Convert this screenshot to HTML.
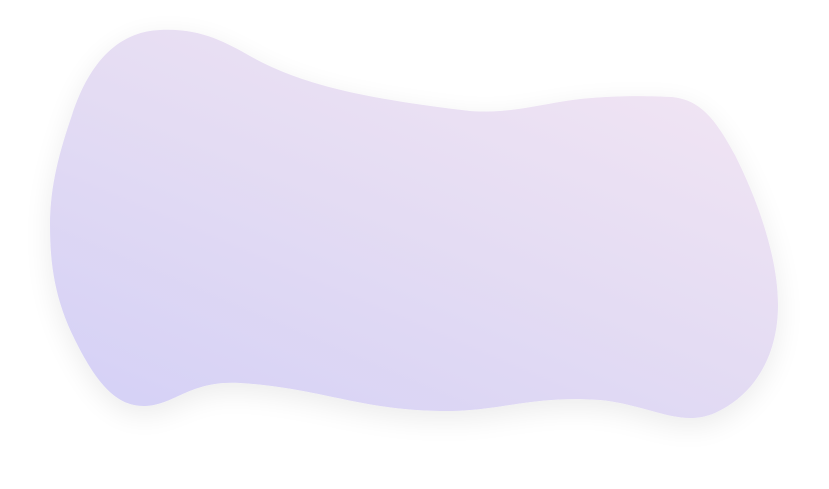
<!DOCTYPE html>
<html><head><meta charset="utf-8"><style>
html,body{margin:0;padding:0;background:#fff;width:829px;height:489px;overflow:hidden}
</style></head><body>
<svg width="829" height="489" viewBox="0 0 829 489" xmlns="http://www.w3.org/2000/svg">
<defs>
<linearGradient id="g" x1="0.1" y1="1" x2="0.9" y2="0">
<stop offset="0" stop-color="#d5d1f6"/>
<stop offset="0.5" stop-color="#e4dcf3"/>
<stop offset="1" stop-color="#f3e6f3"/>
</linearGradient>
<filter id="s" x="-20%" y="-20%" width="140%" height="140%">
<feGaussianBlur in="SourceAlpha" stdDeviation="14"/>
<feOffset dx="0" dy="8"/>
<feComponentTransfer><feFuncA type="linear" slope="0.08"/></feComponentTransfer>
<feMerge><feMergeNode/><feMergeNode in="SourceGraphic"/></feMerge>
</filter>
</defs>
<path filter="url(#s)" fill="url(#g)"
d="M160,30 C200,28 225,42 250,56 C300,84 360,98 470,111 C510,114 540,104 580,99 C620,95 650,96 672,97 C700,100 715,118 735,155 C760,205 778,260 778,305 C778,355 755,395 715,413 C680,428 650,405 600,400 C530,395 500,412 440,411 C360,410 320,388 240,383 C190,380 175,405 145,406 C115,407 95,380 75,340 C55,300 50,265 50,225 C50,185 60,150 72,115 C85,75 110,32 160,30 Z"/>
</svg>
</body></html>
